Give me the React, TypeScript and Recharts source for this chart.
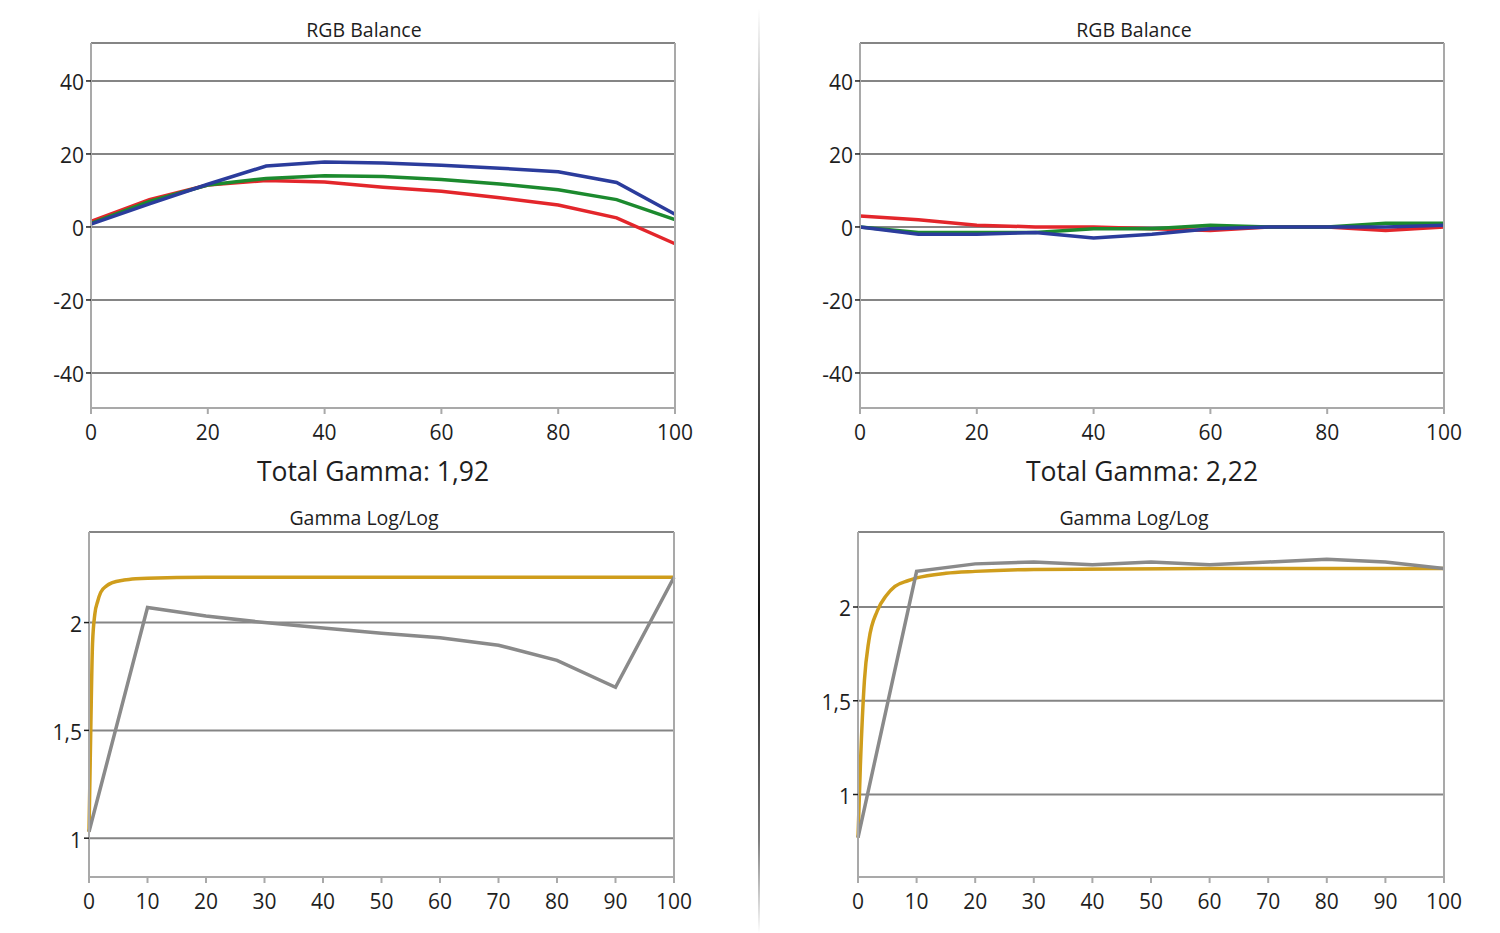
import React from 'react'
import { CartesianGrid, Line, LineChart, XAxis, YAxis } from 'recharts'

// RGB balance, steps of 10 % stimulus
const steps = [0, 10, 20, 30, 40, 50, 60, 70, 80, 90, 100]
const rgbTicksX = [0, 20, 40, 60, 80, 100]
const rgbTicksY = [-40, -20, 0, 20, 40]

const beforeRed = [1.5, 7.5, 11.5, 12.7, 12.3, 10.9, 9.8, 8, 6, 2.5, -4.6]
const beforeGreen = [1, 7, 11.5, 13.3, 14, 13.8, 13, 11.8, 10.2, 7.5, 2]
const beforeBlue = [0.8, 6.3, 11.7, 16.7, 17.8, 17.5, 16.9, 16.1, 15.1, 12.2, 3.5]

const afterRed = [3, 2, 0.5, 0, 0, -0.5, -1, 0, 0, -1, 0]
const afterGreen = [0, -1.5, -1.5, -1.5, -0.5, -0.5, 0.5, 0, 0, 1, 1]
const afterBlue = [0, -2, -2, -1.5, -3, -2, -0.5, 0, 0, 0, 0.5]

// Gamma log/log
const gammaTicksX = [0, 10, 20, 30, 40, 50, 60, 70, 80, 90, 100]
const gammaTicksY = [1, 1.5, 2]

const beforeGamma = [1.03, 2.07, 2.03, 2.0, 1.975, 1.95, 1.93, 1.895, 1.825, 1.7, 2.21]
const afterGamma = [0.77, 2.19, 2.23, 2.24, 2.225, 2.24, 2.225, 2.24, 2.255, 2.24, 2.205]

const beforeTargetX = [0, 0.3, 0.6, 1, 1.5, 2, 3, 4, 6, 8, 10, 20, 50, 100]
const beforeTargetY = [1.03, 1.5, 1.9, 2.04, 2.1, 2.14, 2.17, 2.185, 2.197, 2.203, 2.206, 2.21, 2.21, 2.21]

const afterTargetX = [0, 0.4, 1.1, 1.85, 3.3, 4.8, 6.3, 8.5, 10, 15, 20, 30, 60, 100]
const afterTargetY = [0.77, 1.15, 1.61, 1.82, 1.98, 2.06, 2.11, 2.14, 2.155, 2.18, 2.19, 2.2, 2.205, 2.205]

const totalGamma = ['1,92', '2,22']

const RED = '#e3262b'
const GREEN = '#1c8a2e'
const BLUE = '#2b3c9c'
const GRAY = '#8a8a8a'
const GOLD = '#cf9d1c'
const GRID = '#858585'
const FRAME = '#a9a9a9'
const TEXT = '#1e1e1e'
const FONT = "'Open Sans', sans-serif"

const comma = (v: number) => String(v).replace('.', ',')

const rgbRows = (r: number[], g: number[], b: number[]) =>
  steps.map((x, i) => ({ x, r: r[i], g: g[i], b: b[i] }))

const pairs = (xs: number[], ys: number[]) => xs.map((x, i) => ({ x, y: ys[i] }))

type Series = { data: { x: number; [k: string]: number }[]; key: string; color: string; curve?: 'linear' | 'monotone' }

interface PanelProps {
  left: number
  top: number
  width: number
  height: number
  yDomain: [number, number]
  xTicks: number[]
  yTicks: number[]
  series: Series[]
}

const Panel = ({ left, top, width, height, yDomain, xTicks, yTicks, series }: PanelProps) => (
  <div style={{ position: 'absolute', left, top }}>
    <LineChart width={width} height={height} margin={{ top: 43, right: 24, bottom: 0, left: 0 }}>
      <CartesianGrid vertical={false} stroke={GRID} strokeWidth={2} />
      <XAxis
        dataKey="x"
        type="number"
        domain={[0, 100]}
        ticks={xTicks}
        interval={0}
        height={40}
        tickSize={6}
        tickMargin={11}
        allowDuplicatedCategory={false}
        axisLine={{ stroke: FRAME, strokeWidth: 2 }}
        tickLine={{ stroke: FRAME, strokeWidth: 2 }}
        tick={{ fill: TEXT, fontSize: 21, fontFamily: FONT }}
      />
      <XAxis xAxisId="top" orientation="top" type="number" domain={[0, 100]} height={0} tick={false} tickLine={false} axisLine={{ stroke: FRAME, strokeWidth: 2 }} />
      <YAxis
        type="number"
        domain={yDomain}
        ticks={yTicks}
        interval={0}
        width={91}
        tickSize={5}
        tickMargin={2}
        allowDataOverflow
        tickFormatter={comma}
        axisLine={{ stroke: FRAME, strokeWidth: 2 }}
        tickLine={{ stroke: TEXT, strokeWidth: 1.5 }}
        tick={{ fill: TEXT, fontSize: 21, fontFamily: FONT, dy: 2 }}
      />
      <YAxis yAxisId="right" orientation="right" type="number" domain={yDomain} width={1} tick={false} tickLine={false} axisLine={{ stroke: FRAME, strokeWidth: 2 }} />
      {series.map((s, i) => (
        <Line
          key={i}
          data={s.data}
          dataKey={s.key}
          type={s.curve ?? 'linear'}
          stroke={s.color}
          strokeWidth={3.5}
          dot={false}
          activeDot={false}
          isAnimationActive={false}
        />
      ))}
    </LineChart>
  </div>
)

const Caption = ({ x, y, size, children }: { x: number; y: number; size: number; children: React.ReactNode }) => (
  <div
    style={{
      position: 'absolute',
      left: x - 200,
      top: y - size * 0.7,
      width: 400,
      textAlign: 'center',
      fontFamily: FONT,
      fontSize: size,
      lineHeight: `${size * 1.4}px`,
      color: TEXT,
      whiteSpace: 'nowrap',
    }}
  >
    {children}
  </div>
)

export default function App() {
  const before = rgbRows(beforeRed, beforeGreen, beforeBlue)
  const after = rgbRows(afterRed, afterGreen, afterBlue)

  return (
    <div style={{ position: 'absolute', left: 0, top: 0, width: 1500, height: 933, background: '#fff', overflow: 'hidden' }}>
      <div
        style={{
          position: 'absolute',
          left: 758,
          top: 8,
          width: 2,
          height: 925,
          background: 'linear-gradient(to bottom, rgba(40,40,40,0) 0%, rgba(40,40,40,0.6) 20%, #151515 65%, rgba(40,40,40,0.6) 90%, rgba(40,40,40,0) 100%)',
        }}
      />

      <Caption x={364} y={30} size={19.5}>RGB Balance</Caption>
      <Caption x={1134} y={30} size={19.5}>RGB Balance</Caption>
      <Caption x={373} y={472} size={26.5}>Total Gamma: {totalGamma[0]}</Caption>
      <Caption x={1142} y={472} size={26.5}>Total Gamma: {totalGamma[1]}</Caption>
      <Caption x={364} y={518} size={19.5}>Gamma Log/Log</Caption>
      <Caption x={1134} y={518} size={19.5}>Gamma Log/Log</Caption>

      <Panel
        left={0}
        top={0}
        width={700}
        height={448}
        yDomain={[-49.6, 50.4]}
        xTicks={rgbTicksX}
        yTicks={rgbTicksY}
        series={[
          { data: before, key: 'r', color: RED },
          { data: before, key: 'g', color: GREEN },
          { data: before, key: 'b', color: BLUE },
        ]}
      />
      <Panel
        left={769}
        top={0}
        width={700}
        height={448}
        yDomain={[-49.6, 50.4]}
        xTicks={rgbTicksX}
        yTicks={rgbTicksY}
        series={[
          { data: after, key: 'r', color: RED },
          { data: after, key: 'g', color: GREEN },
          { data: after, key: 'b', color: BLUE },
        ]}
      />
      <Panel
        left={-2}
        top={489}
        width={701}
        height={428}
        yDomain={[0.82, 2.42]}
        xTicks={gammaTicksX}
        yTicks={gammaTicksY}
        series={[
          { data: pairs(beforeTargetX, beforeTargetY), key: 'y', color: GOLD, curve: 'monotone' },
          { data: pairs(steps, beforeGamma), key: 'y', color: GRAY },
        ]}
      />
      <Panel
        left={767}
        top={489}
        width={702}
        height={428}
        yDomain={[0.56, 2.4]}
        xTicks={gammaTicksX}
        yTicks={gammaTicksY}
        series={[
          { data: pairs(afterTargetX, afterTargetY), key: 'y', color: GOLD, curve: 'monotone' },
          { data: pairs(steps, afterGamma), key: 'y', color: GRAY },
        ]}
      />
    </div>
  )
}
